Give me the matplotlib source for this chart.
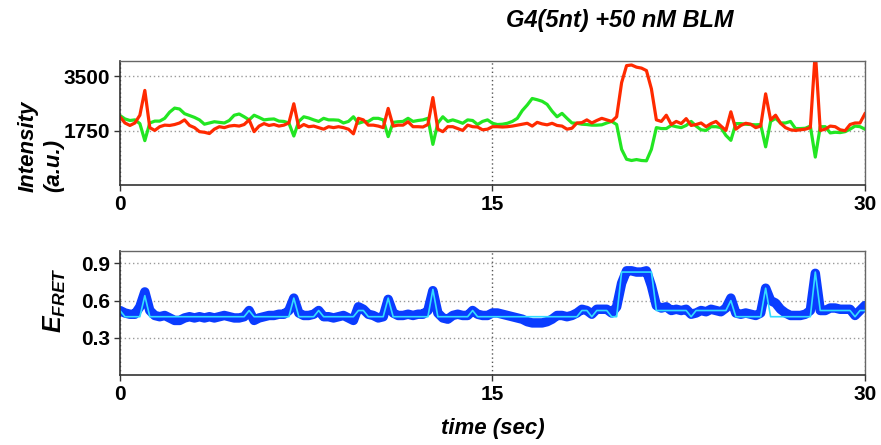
import numpy as np
import matplotlib.pyplot as plt

plt.rcParams['font.family'] = ['Liberation Sans', 'DejaVu Sans']
plt.rcParams['mathtext.fontset'] = 'custom'
plt.rcParams['mathtext.it'] = 'Liberation Sans:bold:italic'
plt.rcParams['mathtext.rm'] = 'Liberation Sans:bold'

# --- donor / acceptor intensities (a.u.), one frame every 0.2 s ---------
green = [2240, 2130, 2080, 2100, 1980, 1430, 2000, 2060, 2060, 2150,
         2350, 2480, 2450, 2300, 2240, 2180, 2100, 1960, 2000, 2040,
         2020, 2000, 2080, 2250, 2290, 2200, 2100, 2250, 2180, 2100,
         2120, 2130, 2060, 2050, 2000, 1580, 2050, 2200, 2160, 2100,
         2050, 2150, 2100, 2100, 2090, 2000, 2050, 2200, 1990, 2040,
         2050, 2150, 2150, 2100, 1560, 2020, 2040, 2050, 2150, 2050,
         2080, 2100, 2150, 1310, 2000, 2200, 2050, 2100, 2050, 1990,
         2100, 2080, 1950, 2050, 2100, 1990, 1950, 1960, 1990, 2050,
         2150, 2400, 2580, 2790, 2750, 2700, 2600, 2380, 2200, 2310,
         2150, 2000, 1990, 1960, 1950, 1930, 1930, 1940, 2000, 2050,
         1950, 1150, 830, 790, 820, 790, 780, 1150, 1850, 1820,
         1820, 1920, 1880, 1850, 1920, 2050, 1900, 1780, 1760, 1880,
         1880, 1850, 1600, 1440, 1980, 1980, 1960, 1950, 1940, 1950,
         1230, 2050, 2150, 2000, 2000, 2050, 1820, 1820, 1830, 1900,
         900, 1880, 1880, 1680, 1700, 1690, 1720, 1800, 1900, 1880,
         1800]
red = [2200, 2000, 1920, 2000, 2250, 3050, 1850, 1760, 1880, 1930,
       1920, 1950, 2000, 2100, 1920, 1850, 1720, 1700, 1660, 1800,
       1880, 1850, 1900, 1920, 1900, 1950, 2100, 1720, 1900, 1980,
       1920, 1950, 1900, 1930, 2000, 2620, 1850, 1950, 1880, 1900,
       1850, 1800, 1880, 1850, 1880, 1850, 1800, 1650, 2150, 2100,
       1930, 1930, 1900, 1850, 2470, 1900, 1930, 1930, 2040, 1880,
       1880, 1870, 1950, 2820, 1800, 1720, 1880, 1880, 1820, 1760,
       1930, 1880, 1870, 1780, 1800, 1880, 1880, 1870, 1880, 1900,
       1930, 1960, 1990, 1900, 2020, 1970, 1940, 1990, 1920, 1900,
       1800, 1830, 2000, 2010, 2100, 2000, 2080, 2150, 2100, 2050,
       2200, 3300, 3850, 3870, 3800, 3770, 3690, 3100, 2100, 2050,
       2250, 1950, 2050, 1980, 2140, 1920, 1950, 2000, 1880, 1980,
       2050, 1900, 1760, 2360, 1800, 1920, 1990, 1960, 1850, 1900,
       2940, 2100, 2250, 1990, 1850, 1780, 1760, 1780, 1800, 1850,
       4300, 1760, 1800, 1900, 1880, 1780, 1750, 1950, 2000, 2000,
       2300]

# --- FRET efficiency and its idealized (HMM) state trace --------------
efret = [0.52, 0.50, 0.49, 0.49, 0.55, 0.67, 0.52, 0.48, 0.47, 0.48,
         0.46, 0.44, 0.44, 0.46, 0.47, 0.46, 0.47, 0.46, 0.47, 0.46,
         0.47, 0.48, 0.47, 0.46, 0.46, 0.47, 0.52, 0.44, 0.46, 0.47,
         0.48, 0.48, 0.49, 0.49, 0.52, 0.62, 0.50, 0.48, 0.48, 0.49,
         0.52, 0.47, 0.47, 0.46, 0.47, 0.48, 0.46, 0.44, 0.55, 0.53,
         0.49, 0.48, 0.46, 0.47, 0.61, 0.50, 0.48, 0.48, 0.49, 0.48,
         0.49, 0.49, 0.52, 0.68, 0.50, 0.46, 0.45, 0.48, 0.49, 0.48,
         0.48, 0.52, 0.49, 0.48, 0.48, 0.50, 0.50, 0.49, 0.48, 0.47,
         0.46, 0.45, 0.43, 0.42, 0.42, 0.42, 0.43, 0.45, 0.48, 0.48,
         0.47, 0.48, 0.50, 0.53, 0.52, 0.49, 0.53, 0.53, 0.53, 0.50,
         0.55, 0.74, 0.84, 0.84, 0.83, 0.83, 0.84, 0.72, 0.56, 0.54,
         0.55, 0.52, 0.53, 0.52, 0.53, 0.49, 0.50, 0.52, 0.51, 0.53,
         0.52, 0.51, 0.54, 0.62, 0.50, 0.49, 0.50, 0.49, 0.48, 0.50,
         0.70, 0.60, 0.58, 0.53, 0.50, 0.48, 0.48, 0.48, 0.49, 0.52,
         0.82, 0.52, 0.52, 0.54, 0.54, 0.53, 0.53, 0.53, 0.48, 0.52,
         0.56]
efret_fit = [0.52, 0.47, 0.47, 0.47, 0.47, 0.64, 0.47, 0.47, 0.47, 0.47,
             0.47, 0.47, 0.47, 0.47, 0.47, 0.47, 0.47, 0.47, 0.47, 0.47,
             0.47, 0.47, 0.47, 0.47, 0.47, 0.47, 0.52, 0.47, 0.47, 0.47,
             0.47, 0.47, 0.47, 0.47, 0.47, 0.62, 0.47, 0.47, 0.47, 0.47,
             0.52, 0.47, 0.47, 0.47, 0.47, 0.47, 0.47, 0.47, 0.52, 0.52,
             0.47, 0.47, 0.47, 0.47, 0.62, 0.47, 0.47, 0.47, 0.47, 0.47,
             0.47, 0.47, 0.47, 0.69, 0.47, 0.47, 0.47, 0.47, 0.47, 0.47,
             0.47, 0.52, 0.47, 0.47, 0.47, 0.47, 0.47, 0.47, 0.47, 0.47,
             0.47, 0.47, 0.47, 0.47, 0.47, 0.47, 0.47, 0.47, 0.47, 0.47,
             0.47, 0.47, 0.47, 0.52, 0.52, 0.47, 0.52, 0.52, 0.52, 0.47,
             0.47, 0.83, 0.83, 0.83, 0.83, 0.83, 0.83, 0.83, 0.52, 0.52,
             0.52, 0.52, 0.52, 0.52, 0.52, 0.47, 0.52, 0.52, 0.52, 0.52,
             0.52, 0.52, 0.52, 0.60, 0.47, 0.47, 0.47, 0.47, 0.47, 0.47,
             0.70, 0.47, 0.47, 0.47, 0.47, 0.47, 0.47, 0.47, 0.47, 0.47,
             0.83, 0.52, 0.52, 0.52, 0.52, 0.52, 0.52, 0.52, 0.47, 0.52,
             0.52]

frame_time = 0.2  # s
time = np.arange(len(green)) * frame_time

x_ticks = [0, 15, 30]
int_ticks = [1750, 3500]
fret_ticks = [0.3, 0.6, 0.9]

fig = plt.figure(figsize=(8.81, 4.45), dpi=100)
ax1 = fig.add_axes([0.1362, 0.5843, 0.8456, 0.2787])
ax2 = fig.add_axes([0.1362, 0.1573, 0.8456, 0.2787])

ax1.plot(time, green, color='#22e622', lw=2.3, solid_joinstyle='round')
ax1.plot(time, red, color='#ff2a00', lw=2.3, solid_joinstyle='round')
ax1.set_ylim(0, 4000)
ax1.set_yticks(int_ticks)
ax1.set_ylabel('Intensity\n(a.u.)', fontsize=16, fontweight='bold',
               fontstyle='italic', linespacing=1.3,
               ha='center', va='center', multialignment='left')
ax1.yaxis.set_label_coords(-0.106, 0.31)

ax2.plot(time, efret, color='#0a3cff', lw=6.8,
         solid_joinstyle='round', solid_capstyle='round')
ax2.plot(time, efret_fit, color='#33ddff', lw=1.2)
ax2.set_ylim(0, 1)
ax2.set_yticks(fret_ticks)
ax2.set_ylabel(r'$E_{FRET}$', fontsize=18, ha='center', va='center')
ax2.yaxis.set_label_coords(-0.087, 0.60)
ax2.set_xlabel('time (sec)', fontsize=16, fontweight='bold',
               fontstyle='italic', labelpad=10)

for ax in (ax1, ax2):
    ax.set_xlim(0, 30)
    ax.set_xticks(x_ticks)
    ax.set_axisbelow(True)
    ax.grid(axis='y', ls=(0, (1, 2)), color='#9a9a9a', lw=1)
    ax.grid(axis='x', ls=(0, (1, 2)), color='#555555', lw=1)
    ax.tick_params(direction='out', length=4, width=1, labelsize=15, pad=3,
                   color='#333333')
    for lab in ax.get_xticklabels() + ax.get_yticklabels():
        lab.set_fontweight('bold')
    for side in ('left', 'bottom'):
        ax.spines[side].set_color('#333333')
        ax.spines[side].set_linewidth(1.2)
    for side in ('top', 'right'):
        ax.spines[side].set_color('#666666')
        ax.spines[side].set_linewidth(1.0)

fig.text(0.7035, 0.953, 'G4(5nt) +50 nM BLM', ha='center', va='center',
         fontsize=17, fontweight='bold', fontstyle='italic')

fig.savefig('out.png', dpi=100)
